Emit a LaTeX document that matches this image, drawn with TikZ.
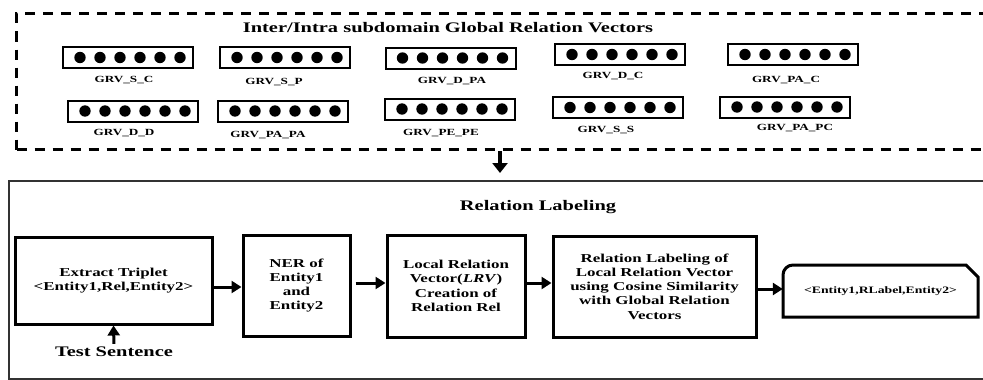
\documentclass[tikz,border=0pt]{standalone}
\usepackage{fontspec}
\setmainfont{Liberation Serif}[FakeStretch=1.4]
\usetikzlibrary{arrows.meta,calc}
\begin{document}
\begin{tikzpicture}[x=1pt,y=-1pt,
  vecbox/.style={draw,line width=2pt,minimum width=130pt,minimum height=21pt,inner sep=0pt},
  veclab/.style={font=\fontsize{9.4}{11}\selectfont\bfseries,inner sep=0pt},
  stagebox/.style={draw,line width=3pt,align=center,inner sep=0pt,
    font=\fontsize{12.1}{14.3}\selectfont\bfseries},
  heading/.style={font=\fontsize{14.6}{17}\selectfont\bfseries,inner sep=0pt},
  flow/.style={line width=3pt,-{Triangle[length=10pt,width=12pt]}},
  dotfill/.style={fill=black}]
\useasboundingbox (0,0) rectangle (983,380);
\clip (0,0) rectangle (983,380);

% container for the global relation vectors
\node[draw,line width=3pt,dash pattern=on 10pt off 8pt,minimum width=985pt,minimum height=136pt,
      anchor=north west,inner sep=0pt] (grv) at (15,12) {};
\node[heading] (grvtitle) at (448,28) {Inter/Intra subdomain Global Relation Vectors};

% a vector box with six dots and its label
\newcommand\grvvec[6]{%
  \node[vecbox] (#1) at (#2,#3) {};
  \foreach \k in {0,...,5} \fill[dotfill] ($(#1.west)+(18+20*\k,0)$) circle (5.7);
  \node[veclab] (#1lab) at (#4,#5) {#6};
}
\grvvec{vsc}{128}{57.5}{124}{80}{GRV\_S\_C}
\grvvec{vsp}{285}{57.5}{274}{82}{GRV\_S\_P}
\grvvec{vdpa}{450.5}{58}{452}{81}{GRV\_D\_PA}
\grvvec{vdc}{620}{54.5}{613}{76}{GRV\_D\_C}
\grvvec{vpac}{793}{54.5}{786}{80}{GRV\_PA\_C}
\grvvec{vdd}{133}{111}{124}{133}{GRV\_D\_D}
\grvvec{vpapa}{283}{111}{268}{135}{GRV\_PA\_PA}
\grvvec{vpepe}{450}{109}{441}{133}{GRV\_PE\_PE}
\grvvec{vss}{618}{107.5}{606}{130}{GRV\_S\_S}
\grvvec{vpapc}{785}{107}{795}{128}{GRV\_PA\_PC}

% container for relation labeling
\node[draw,line width=1.5pt,draw=black!80,minimum width=990pt,minimum height=198pt,
      anchor=north west,inner sep=0pt] (rl) at (8,180) {};
\node[heading] (rltitle) at (538,207) {Relation Labeling};

\coordinate (downx) at (500,0);
\draw[flow,line width=3.5pt,-{Triangle[length=10pt,width=15pt]},shorten >=7pt]
  (grv.south -| downx) -- (rl.north -| downx);

% processing stages
\node[stagebox,minimum width=197pt,minimum height=87pt] (b1) at (113.5,280.5)
  {Extract Triplet\\{<}Entity1,Rel,Entity2{>}};
\node[stagebox,minimum width=107pt,minimum height=101pt] (b2) at (296.5,285.5)
  {NER of\\Entity1\\and\\Entity2};
\node[stagebox,minimum width=138pt,minimum height=102pt] (b3) at (456,286)
  {Local Relation\\Vector(\textit{LRV})\\Creation of\\Relation Rel};
\node[stagebox,minimum width=203pt,minimum height=101pt] (b4) at (654.5,286.5)
  {Relation Labeling of\\Local Relation Vector\\using Cosine Similarity\\with Global Relation\\Vectors};

% output card
\node[minimum width=195pt,minimum height=52pt,inner sep=0pt,
      font=\fontsize{9.8}{12}\selectfont\bfseries] (out) at (880.5,291)
  {{<}Entity1,RLabel,Entity2{>}};
\draw[line width=3pt,line join=miter] (783,317) -- (783,275)
  arc[start angle=180,end angle=270,radius=10] -- (966,265) -- (978,277) -- (978,317) -- cycle;

\node[heading] (test) at (114,352) {Test Sentence};

\coordinate (r1) at (0,287);
\coordinate (r2) at (0,283);
\coordinate (r3) at (0,283);
\coordinate (r4) at (0,289);
\draw[flow] (b1.east |- r1) -- (b2.west |- r1);
\draw[flow,shorten <=4pt] (b2.east |- r2) -- (b3.west |- r2);
\draw[flow] (b3.east |- r3) -- (b4.west |- r3);
\draw[flow] (b4.east |- r4) -- (out.west |- r4);
\draw[flow,shorten <=3pt] (test.north) -- (b1.south);
\end{tikzpicture}
\end{document}
